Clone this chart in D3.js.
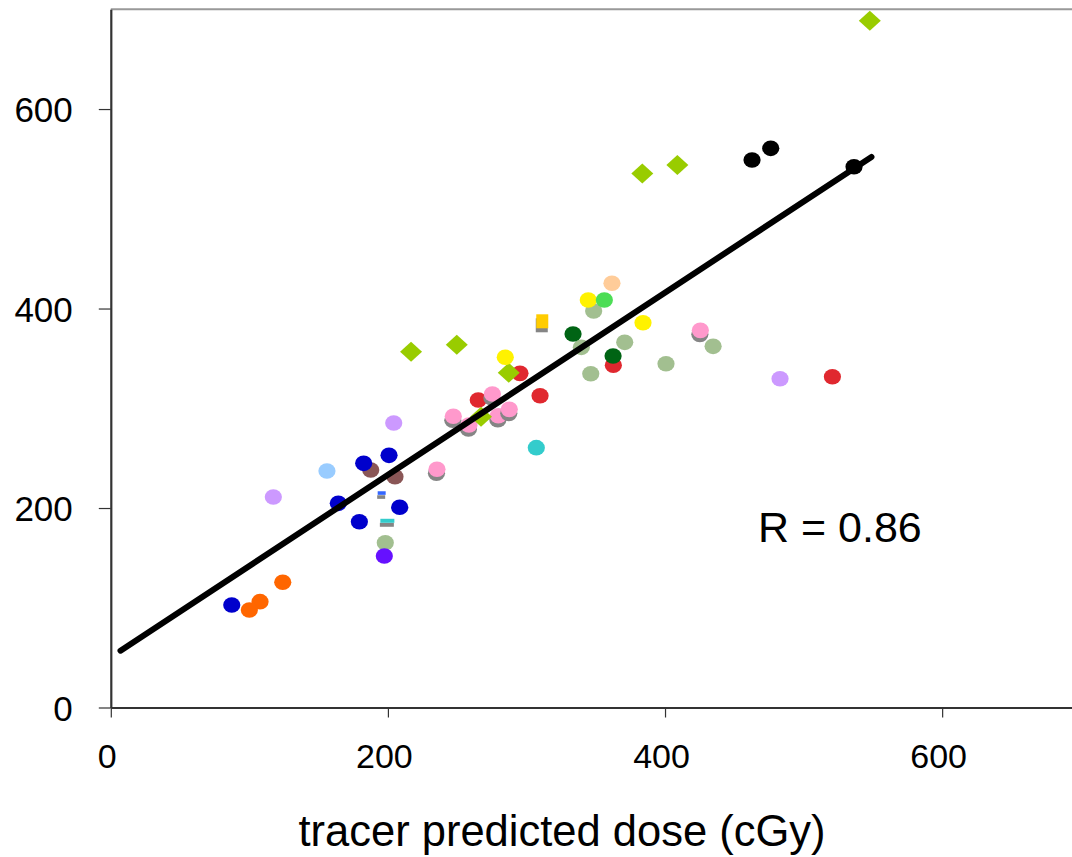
<!DOCTYPE html>
<html>
<head>
<meta charset="utf-8">
<script src="https://cdn.jsdelivr.net/npm/d3@7"></script>
<style>
  html, body { margin: 0; padding: 0; background: #fff; }
  svg { display: block; font-family: "Liberation Sans", Arial, sans-serif; }
</style>
</head>
<body>
<svg id="chart" width="1072" height="857"></svg>
<script>
// ---- data ----
const xTicks = [0, 200, 400, 600];
const yTicks = [0, 200, 400, 600];
const xTitle = "tracer predicted dose (cGy)";
const rLabel = "R = 0.86";

// fitted regression line endpoints [x, y]
const fitLine = [[7, 57], [549, 552]];

// series: [x, y] points
const brownPts = [[187.6, 238.1], [205.1, 231.4]];
const bluePts = [[87.3, 102.8], [164.2, 204.7], [179.4, 186.3], [182.5, 244.8], [200.8, 252.8], [208.5, 200.7]];
const lavenderPts = [[117.3, 211.0], [204.2, 285.2], [483.0, 329.6]];
const lightBluePts = [[156.0, 237.1]];
const sagePts = [[198.1, 165.2], [339.6, 361.1], [346.4, 334.6], [348.5, 397.5], [370.9, 366.1], [400.7, 344.7], [434.7, 362.1]];
const violetPts = [[197.4, 151.9]];
const orangePts = [[124.1, 125.5], [107.7, 106.1], [100.0, 97.7]];
const cyanPts = [[307.1, 260.5]];
const redPts = [[265.2, 308.3], [295.3, 335.0], [309.8, 312.6], [362.7, 343.1], [520.8, 331.6]];
const pinkPts = [[235.4, 238.8], [247.2, 292.0], [258.5, 283.2], [275.4, 314.3], [279.7, 292.5], [287.6, 298.9], [425.5, 378.1]];
const diamondPts = [[216.7, 356.7], [249.7, 363.7], [267.2, 291.5], [287.2, 335.6], [383.6, 535.5], [408.9, 543.9], [547.8, 688.5]];
const yellowPts = [[284.7, 351.1], [344.6, 408.5], [384.1, 385.8]];
const lightGreenPts = [[356.2, 408.5]];
const darkGreenPts = [[333.6, 374.4], [362.5, 352.4]];
const peachPts = [[361.7, 425.3]];
const goldSquarePts = [[311.4, 387.2]];
const blueDashPts = [[195.5, 215.0]];
const cyanDashPts = [[199.6, 187.2]];
const blackPts = [[462.8, 548.9], [476.3, 560.6], [536.4, 542.2]];

// ---- series styling (order = drawing order) ----
const series = [
  { pts: brownPts,      color: "#8A5656", shape: "dot" },
  { pts: bluePts,       color: "#0000CC", shape: "dot" },
  { pts: lavenderPts,   color: "#CC99FF", shape: "dot" },
  { pts: lightBluePts,  color: "#99CCFF", shape: "dot" },
  { pts: sagePts,       color: "#A2BF90", shape: "dot" },
  { pts: violetPts,     color: "#6611FF", shape: "dot" },
  { pts: orangePts,     color: "#FF6600", shape: "dot" },
  { pts: cyanPts,       color: "#33CCCC", shape: "dot" },
  { pts: redPts,        color: "#E0282F", shape: "dot" },
  { pts: pinkPts,       color: "#FF99CC", shape: "dot", shadow: true },
  { pts: diamondPts,    color: "#99CC00", shape: "diamond" },
  { pts: yellowPts,     color: "#FFF200", shape: "dot" },
  { pts: lightGreenPts, color: "#4CDD55", shape: "dot" },
  { pts: darkGreenPts,  color: "#006414", shape: "dot" },
  { pts: peachPts,      color: "#FFCC99", shape: "dot" },
  { pts: goldSquarePts, color: "#FFCC00", shape: "square", shadow: true },
  { pts: blueDashPts,   color: "#3366FF", shape: "dashS", shadow: true },
  { pts: cyanDashPts,   color: "#33CCCC", shape: "dashL", shadow: true },
  { pts: blackPts,      color: "#000000", shape: "dot" }
];

// ---- layout ----
const svg = d3.select("#chart");
const x = d3.scaleLinear().domain([0, 700]).range([110.8, 1080.7]);
const y = d3.scaleLinear().domain([0, 700]).range([707.5, 9.3]);

// top frame line
svg.append("line")
  .attr("x1", x(0)).attr("x2", 1072)
  .attr("y1", y(700)).attr("y2", y(700))
  .attr("stroke", "#999").attr("stroke-width", 2);

// axes
const xAxis = svg.append("g").attr("transform", `translate(0,${y(0)})`)
  .call(d3.axisBottom(x).tickValues(xTicks).tickSizeInner(10).tickSizeOuter(0).tickFormat(d3.format("d")));
xAxis.select(".domain").attr("stroke", "#333").attr("stroke-width", 2.2);
xAxis.selectAll(".tick line").attr("stroke", "#333").attr("stroke-width", 1.2);
xAxis.selectAll(".tick text")
  .attr("font-size", 34).attr("fill", "#000")
  .attr("font-family", "Liberation Sans, Arial, sans-serif")
  .attr("y", 60).attr("dy", 0).attr("dx", -4);

const yAxis = svg.append("g").attr("transform", `translate(${x(0)},0)`)
  .call(d3.axisLeft(y).tickValues(yTicks).tickSizeInner(12).tickSizeOuter(0).tickFormat(d3.format("d")));
yAxis.select(".domain").attr("stroke", "#333").attr("stroke-width", 2.2);
yAxis.selectAll(".tick line").attr("stroke", "#333").attr("stroke-width", 1.2);
yAxis.selectAll(".tick text")
  .attr("font-size", 35).attr("fill", "#000")
  .attr("font-family", "Liberation Sans, Arial, sans-serif")
  .attr("x", -38).attr("dy", "0.36em");

// markers
const plot = svg.append("g");
const RX = 8.6, RY = 7.8;
function drawShape(g, shape, cx, cy, fill) {
  if (shape === "dot") {
    g.append("ellipse").attr("cx", cx).attr("cy", cy).attr("rx", RX).attr("ry", RY).attr("fill", fill);
  } else if (shape === "diamond") {
    g.append("path")
      .attr("d", `M${cx},${cy - 10}L${cx + 11},${cy}L${cx},${cy + 10}L${cx - 11},${cy}Z`)
      .attr("fill", fill);
  } else if (shape === "square") {
    g.append("rect").attr("x", cx - 6).attr("y", cy - 7).attr("width", 12).attr("height", 14).attr("fill", fill);
  } else if (shape === "dashS") {
    g.append("rect").attr("x", cx - 4).attr("y", cy - 1.8).attr("width", 8).attr("height", 3.6).attr("fill", fill);
  } else if (shape === "dashL") {
    g.append("rect").attr("x", cx - 7).attr("y", cy - 2).attr("width", 14).attr("height", 4).attr("fill", fill);
  }
}
series.forEach(s => {
  s.pts.forEach(p => {
    const cx = x(p[0]), cy = y(p[1]);
    if (s.shadow) drawShape(plot, s.shape, cx - 0.5, cy + 4, "#858585");
    drawShape(plot, s.shape, cx, cy, s.color);
  });
});

// regression line
svg.append("path")
  .datum(fitLine)
  .attr("d", d3.line().x(d => x(d[0])).y(d => y(d[1])))
  .attr("stroke", "#000").attr("stroke-width", 6)
  .attr("stroke-linecap", "round").attr("fill", "none");

// R label
svg.append("text")
  .attr("x", 758).attr("y", 542)
  .attr("font-size", 43).attr("fill", "#000")
  .text(rLabel);

// x-axis title
svg.append("text")
  .attr("x", 562).attr("y", 846)
  .attr("text-anchor", "middle")
  .attr("font-size", 43.5).attr("fill", "#000")
  .text(xTitle);
</script>
</body>
</html>
